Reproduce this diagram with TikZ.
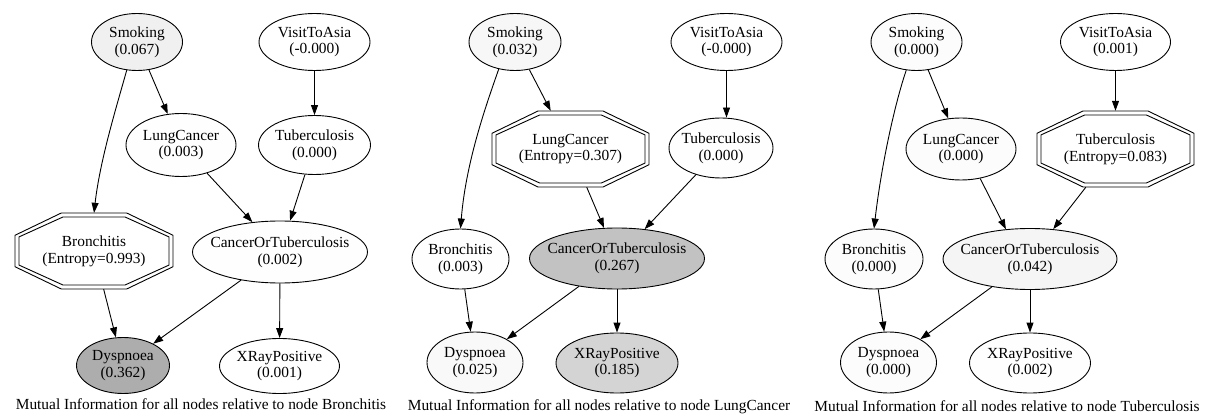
\documentclass[tikz,border=0pt]{standalone}
\usepackage{fontspec}
\setmainfont{Liberation Serif}
\usetikzlibrary{shapes.geometric,arrows.meta,calc}
\tikzset{
  txt/.style={font=\fontsize{15.4}{16.8}\selectfont, align=center, inner sep=0pt},
  ell/.style={ellipse, draw, line width=0.9pt, inner sep=0pt},
  oct/.style={rectangle, inner sep=0pt, txt},
  edge/.style={line width=0.9pt, -{Triangle[length=10pt,width=7pt]}},
}
\newcommand{\octpath}[3]{%
  \draw[line width=0.9pt]
    ($(#1.center)+({#2},{0.414*#3})$) -- ($(#1.center)+({0.414*#2},{#3})$) --
    ($(#1.center)+({-0.414*#2},{#3})$) -- ($(#1.center)+({-#2},{0.414*#3})$) --
    ($(#1.center)+({-#2},{-0.414*#3})$) -- ($(#1.center)+({-0.414*#2},{-#3})$) --
    ($(#1.center)+({0.414*#2},{-#3})$) -- ($(#1.center)+({#2},{-0.414*#3})$) -- cycle;}
\newcommand{\ellnode}[7]{% name, x, y, rx, ry, fill, text
  \node[ell, minimum width={2*#4 pt}, minimum height={2*#5 pt}, fill=#6,
        label={[txt]center:#7}] (#1) at (#2,#3) {};}
\begin{document}
\begin{tikzpicture}[x=1pt, y=-1pt]
\useasboundingbox (0,0) rectangle (1214,419);

% ---------- Panel 1 ----------
\ellnode{S1}{137}{42}{45.5}{28.5}{black!6}{Smoking\\(0.067)}
\ellnode{V1}{314.5}{42}{55.5}{28.5}{white}{VisitToAsia\\(-0.000)}
\ellnode{L1}{181}{145}{55}{31.5}{black!0.3}{LungCancer\\(0.003)}
\ellnode{T1}{314.5}{145}{56}{29.5}{white}{Tuberculosis\\(0.000)}
\node[oct, minimum width=158pt, minimum height=76pt] (B1) at (94,251) {Bronchitis\\(Entropy=0.993)};
\octpath{B1}{79}{38}
\octpath{B1}{75}{34}
\ellnode{C1}{280}{252}{87.5}{31}{black!0.2}{CancerOrTuberculosis\\(0.002)}
\ellnode{D1}{123}{365.5}{46.5}{28}{black!32}{Dyspnoea\\(0.362)}
\ellnode{X1}{279.5}{366}{60}{27.5}{black!0.1}{XRayPositive\\(0.001)}
\node[txt] (cap1) at (201,404) {Mutual Information for all nodes relative to node Bronchitis};

\draw[edge] (S1.250) .. controls (117,105) and (100,160) .. (B1.north);
\draw[edge] (S1) -- (L1);
\draw[edge] (V1) -- (T1);
\draw[edge] (L1) -- (C1);
\draw[edge] (T1) -- (C1);
\draw[edge] (B1) -- (D1);
\draw[edge] (C1) -- (D1);
\draw[edge] (C1) -- (X1);

% ---------- Panel 2 ----------
\ellnode{S2}{515}{42}{46}{28.5}{black!3}{Smoking\\(0.032)}
\ellnode{V2}{726.5}{42}{55.5}{28.5}{white}{VisitToAsia\\(-0.000)}
\node[oct, minimum width=157pt, minimum height=76pt] (L2) at (570.5,149) {LungCancer\\(Entropy=0.307)};
\octpath{L2}{78.5}{38}
\octpath{L2}{74.5}{34}
\ellnode{T2}{721}{148}{52}{30}{black!0.5}{Tuberculosis\\(0.000)}
\ellnode{B2}{460.5}{259}{48.5}{30}{black!0.3}{Bronchitis\\(0.003)}
\ellnode{C2}{617}{258.5}{87.5}{30.5}{black!24}{CancerOrTuberculosis\\(0.267)}
\ellnode{D2}{475}{362.5}{48}{30.5}{black!2.3}{Dyspnoea\\(0.025)}
\ellnode{X2}{617}{363}{61}{30}{black!16.7}{XRayPositive\\(0.185)}
\node[txt] (cap2) at (599,406.5) {Mutual Information for all nodes relative to node LungCancer};

\draw[edge] (S2.239) .. controls (488,100) and (466,160) .. (B2.north);
\draw[edge] (S2) -- (L2);
\draw[edge] (V2.south) -- (V2.south |- T2.north);
\draw[edge] (L2) -- (C2);
\draw[edge] (T2) -- (C2);
\draw[edge] (B2) -- (D2);
\draw[edge] (C2) -- (D2);
\draw[edge] (C2) -- (X2);

% ---------- Panel 3 ----------
\ellnode{S3}{916.5}{42}{45.5}{28.5}{black!1}{Smoking\\(0.000)}
\ellnode{V3}{1115.5}{42}{55}{28.5}{black!0.1}{VisitToAsia\\(0.001)}
\ellnode{L3}{961}{149}{55}{31}{black!1}{LungCancer\\(0.000)}
\node[oct, minimum width=157pt, minimum height=76pt] (T3) at (1115.5,149) {Tuberculosis\\(Entropy=0.083)};
\octpath{T3}{78.5}{38}
\octpath{T3}{74.5}{34}
\ellnode{B3}{874}{259}{49}{30}{black!1}{Bronchitis\\(0.000)}
\ellnode{C3}{1030}{259}{87}{30.5}{black!3.8}{CancerOrTuberculosis\\(0.042)}
\ellnode{D3}{888.5}{362.5}{48}{30.5}{black!1}{Dyspnoea\\(0.000)}
\ellnode{X3}{1030}{363}{60.5}{30}{black!0.2}{XRayPositive\\(0.002)}
\node[txt] (cap3) at (1007,406.5) {Mutual Information for all nodes relative to node Tuberculosis};

\draw[edge] (S3.250) .. controls (896,100) and (882,160) .. (B3.north);
\draw[edge] (S3) -- (L3);
\draw[edge] (V3) -- (T3);
\draw[edge] (L3.-57) -- (C3.129);
\draw[edge] (T3) -- (C3);
\draw[edge] (B3) -- (D3);
\draw[edge] (C3) -- (D3);
\draw[edge] (C3) -- (X3);
\end{tikzpicture}
\end{document}
